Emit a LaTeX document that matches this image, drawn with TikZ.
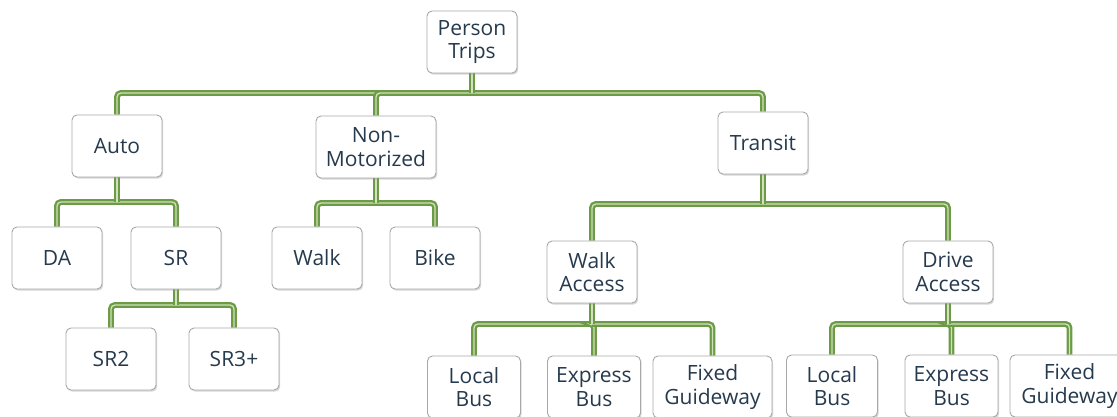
\documentclass[tikz,border=0pt]{standalone}
\usepackage{fontspec}
\setmainfont{Open Sans}
\usetikzlibrary{shadows,backgrounds}
\definecolor{txt}{HTML}{263A4E}
\definecolor{boxline}{HTML}{A8A8A8}
\definecolor{gout}{HTML}{6C9A45}
\definecolor{gin}{HTML}{CFE2BC}
\tikzset{
  box/.style={draw=boxline, line width=0.9pt, fill=white, rounded corners=5pt,
    minimum width=90pt, minimum height=62pt, inner sep=0pt, align=center,
    text=txt, font=\fontsize{21}{23.5}\selectfont,
    drop shadow={shadow xshift=1.2pt, shadow yshift=-1.6pt, opacity=0.35, fill=black!45}},
  conn/.style={draw=gout, line width=2.3pt, double=gin, double distance=1.3pt},
}
\begin{document}
\begin{tikzpicture}[x=1pt,y=-1pt]
\useasboundingbox (0,0) rectangle (1117,417);
% nodes
\node[box] (pt) at (472,42) {Person\\Trips};
\node[box] (auto) at (117,146) {Auto};
\node[box, minimum width=120pt] (nm) at (376,147) {Non-\\Motorized};
\node[box] (tr) at (763,143) {Transit};
\node[box] (da) at (57,258) {DA};
\node[box] (sr) at (176,258) {SR};
\node[box] (walk) at (317,258) {Walk};
\node[box] (bike) at (435,258) {Bike};
\node[box] (wa) at (592,272) {Walk\\Access};
\node[box] (dra) at (948,272) {Drive\\Access};
\node[box] (sr2) at (111,359) {SR2};
\node[box] (sr3) at (234,359) {SR3+};
\node[box, minimum width=93pt] (wlb) at (474,387) {Local\\Bus};
\node[box, minimum width=93pt] (web) at (594,387) {Express\\Bus};
\node[box, minimum width=119pt] (wfg) at (712.5,387) {Fixed\\Guideway};
\node[box, minimum width=91pt] (dlb) at (832,386) {Local\\Bus};
\node[box, minimum width=93pt] (deb) at (951.5,386) {Express\\Bus};
\node[box, minimum width=119pt] (dfg) at (1069.5,386) {Fixed\\Guideway};
% junction coordinates
\coordinate (jpt) at (472,93);
\coordinate (jauto) at (117,202);
\coordinate (jnm) at (376,203);
\coordinate (jtr) at (763,204);
\coordinate (jsr) at (176,305);
\coordinate (jwa) at (592,324);
\coordinate (jdra) at (948,324);
\begin{scope}[on background layer]
\foreach \c in {auto,nm,tr} \draw[conn, rounded corners=4pt] (\c.north) |- (jpt);
\draw[conn] (jpt) -- (pt.south);
\foreach \c in {da,sr} \draw[conn, rounded corners=4pt] (\c.north) |- (jauto);
\draw[conn] (jauto) -- (auto.south);
\foreach \c in {walk,bike} \draw[conn, rounded corners=4pt] (\c.north) |- (jnm);
\draw[conn] (jnm) -- (nm.south);
\foreach \c in {wa,dra} \draw[conn, rounded corners=4pt] (\c.north) |- (jtr);
\draw[conn] (jtr) -- (tr.south);
\foreach \c in {sr2,sr3} \draw[conn, rounded corners=4pt] (\c.north) |- (jsr);
\draw[conn] (jsr) -- (sr.south);
\foreach \c in {wlb,web,wfg} \draw[conn, rounded corners=4pt] (\c.north) |- (jwa);
\draw[conn] (jwa) -- (wa.south);
\foreach \c in {dlb,deb,dfg} \draw[conn, rounded corners=4pt] (\c.north) |- (jdra);
\draw[conn] (jdra) -- (dra.south);
\end{scope}
\end{tikzpicture}
\end{document}
